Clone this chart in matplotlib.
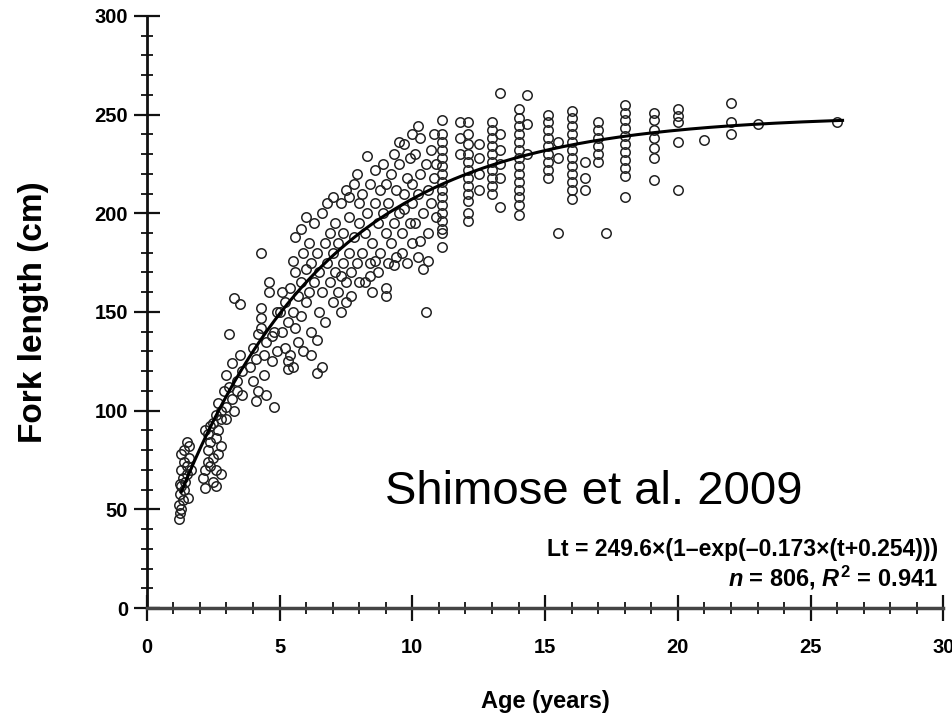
import numpy as np
import matplotlib
matplotlib.use("Agg")
import matplotlib.pyplot as plt
from matplotlib.ticker import MultipleLocator

age_g1 = [1.2, 1.2, 1.25, 1.25, 1.3, 1.3, 1.3, 1.35, 1.35, 1.4, 1.4, 1.4, 1.45, 1.5, 1.5, 1.5, 1.55, 1.6, 1.6, 1.65, 1.3, 1.25]
fl_g1 = [45, 52, 48, 58, 50, 62, 70, 55, 66, 60, 74, 80, 64, 68, 72, 84, 56, 76, 82, 70, 78, 63]

age_g2 = [2.1, 2.2, 2.2, 2.3, 2.3, 2.3, 2.4, 2.4, 2.5, 2.5, 2.5, 2.6, 2.6, 2.7, 2.7, 2.8, 2.8, 2.2, 2.6, 2.4]
fl_g2 = [66, 70, 61, 74, 80, 88, 84, 92, 64, 76, 94, 70, 86, 78, 90, 82, 68, 90, 62, 72]

age_g3 = [2.6, 2.7, 2.8, 2.9, 3.0, 3.0, 3.1, 3.1, 3.2, 3.2, 3.3, 3.3, 3.4, 3.5, 3.5, 3.6, 3.6, 2.8, 3.0, 3.4]
fl_g3 = [98, 104, 100, 110, 96, 118, 112, 139, 106, 124, 157, 100, 115, 128, 154, 120, 108, 96, 102, 110]

age_g4 = [3.9, 4.0, 4.0, 4.1, 4.2, 4.2, 4.3, 4.3, 4.3, 4.3, 4.4, 4.4, 4.5, 4.5, 4.6, 4.6, 4.7, 4.7, 4.8, 4.8, 4.9, 4.9, 4.1]
fl_g4 = [122, 115, 132, 126, 110, 139, 180, 152, 147, 142, 118, 128, 135, 108, 160, 165, 125, 138, 102, 140, 130, 150, 105]

age_g5 = [5.0, 5.1, 5.1, 5.2, 5.2, 5.3, 5.3, 5.4, 5.4, 5.5, 5.5, 5.6, 5.6, 5.7, 5.7, 5.8, 5.8, 5.9, 5.9, 6.0, 6.0, 6.0, 5.3, 5.6, 5.5, 5.8]
fl_g5 = [150, 140, 160, 132, 155, 125, 145, 162, 128, 150, 122, 170, 142, 158, 135, 165, 148, 180, 130, 198, 155, 172, 121, 188, 176, 192]

age_g6 = [6.1, 6.1, 6.2, 6.2, 6.3, 6.3, 6.4, 6.4, 6.4, 6.5, 6.5, 6.6, 6.6, 6.7, 6.7, 6.8, 6.8, 6.9, 6.9, 7.0, 7.0, 7.0, 6.2, 6.6]
fl_g6 = [160, 185, 175, 140, 195, 165, 119, 136, 180, 150, 170, 200, 160, 185, 145, 175, 205, 165, 190, 208, 155, 180, 128, 122]

age_g7 = [7.1, 7.1, 7.2, 7.2, 7.3, 7.3, 7.4, 7.4, 7.5, 7.5, 7.6, 7.6, 7.7, 7.7, 7.8, 7.8, 7.9, 7.9, 8.0, 8.0, 8.0, 7.5, 7.3, 7.6]
fl_g7 = [170, 195, 160, 185, 150, 205, 175, 190, 165, 212, 180, 198, 158, 170, 188, 215, 220, 175, 165, 195, 205, 155, 168, 208]

age_g8 = [8.1, 8.1, 8.2, 8.2, 8.3, 8.3, 8.4, 8.4, 8.5, 8.5, 8.6, 8.6, 8.7, 8.7, 8.8, 8.8, 8.9, 8.9, 9.0, 9.0, 9.0, 9.0, 8.4, 8.6]
fl_g8 = [180, 210, 165, 190, 229, 200, 175, 215, 160, 185, 205, 222, 170, 195, 212, 180, 200, 225, 162, 158, 190, 215, 168, 176]

age_g9 = [9.1, 9.1, 9.2, 9.2, 9.3, 9.3, 9.4, 9.4, 9.5, 9.5, 9.6, 9.6, 9.7, 9.7, 9.8, 9.8, 9.9, 9.9, 10.0, 10.0, 10.0, 10.0, 9.5, 9.3, 9.7]
fl_g9 = [175, 205, 220, 185, 195, 230, 178, 212, 200, 225, 180, 190, 235, 210, 175, 218, 195, 228, 240, 205, 185, 215, 236, 174, 202]

age_g10 = [10.1, 10.1, 10.2, 10.2, 10.3, 10.3, 10.4, 10.4, 10.5, 10.5, 10.6, 10.6, 10.7, 10.7, 10.8, 10.8, 10.9, 10.9, 10.3, 10.6, 10.2]
fl_g10 = [230, 195, 210, 178, 238, 220, 200, 172, 150, 225, 212, 190, 232, 205, 218, 240, 198, 225, 186, 176, 244]

# the older fish fall in near-vertical columns
age_cols = [11.1, 11.8, 12.1, 12.5, 13.0, 13.3, 14.0, 14.3, 15.1, 15.5, 16.0, 16.5, 17.0, 17.3, 18.0, 19.1, 20.0, 21.0, 22.0, 23.0, 26.0]
fl_cols = [
    [247, 240, 236, 232, 228, 224, 220, 216, 212, 208, 204, 200, 196, 192, 190, 183],
    [246, 238, 230],
    [246, 240, 235, 230, 226, 222, 218, 214, 210, 206, 200, 196],
    [235, 228, 220, 212],
    [246, 242, 238, 234, 230, 226, 222, 218, 214, 210],
    [261, 240, 232, 225, 218, 203],
    [253, 248, 244, 240, 236, 232, 228, 224, 220, 216, 212, 208, 204, 199],
    [260, 245, 230],
    [250, 246, 242, 238, 234, 230, 226, 222, 218],
    [236, 228, 190],
    [252, 248, 244, 240, 236, 232, 228, 224, 220, 216, 212, 207],
    [226, 218, 212],
    [246, 242, 238, 234, 230, 226],
    [190],
    [255, 251, 247, 243, 239, 235, 231, 227, 223, 219, 208],
    [251, 247, 242, 238, 233, 228, 217],
    [253, 249, 246, 236, 212],
    [237],
    [256, 246, 240],
    [245],
    [246],
]

# von Bertalanffy fit printed on the figure
L_inf, k, t0 = 249.6, 0.173, -0.254

ages = age_g1 + age_g2 + age_g3 + age_g4 + age_g5 + age_g6 + age_g7 + age_g8 + age_g9 + age_g10
fls = fl_g1 + fl_g2 + fl_g3 + fl_g4 + fl_g5 + fl_g6 + fl_g7 + fl_g8 + fl_g9 + fl_g10
for a, col in zip(age_cols, fl_cols):
    ages += [a] * len(col)
    fls += col

plt.rcParams['font.family'] = ['Liberation Sans', 'DejaVu Sans']
plt.rcParams['mathtext.fontset'] = 'custom'
plt.rcParams['mathtext.rm'] = 'Liberation Sans:bold'
plt.rcParams['mathtext.it'] = 'Liberation Sans:italic:bold'

fig = plt.figure(figsize=(9.53, 7.18), dpi=100)
ax = fig.add_axes([0.154, 0.153, 0.836, 0.825])

ax.plot(ages, fls, 'o', mfc='none', mec='#222222', ms=6.8, mew=1.1, zorder=2)

t = np.linspace(1.3, 26.2, 200)
ax.plot(t, L_inf * (1 - np.exp(-k * (t - t0))), color='black', lw=2.2, zorder=3)

ax.set_xlim(0, 30)
ax.set_ylim(0, 300)
ax.xaxis.set_major_locator(MultipleLocator(5))
ax.xaxis.set_minor_locator(MultipleLocator(1))
ax.yaxis.set_major_locator(MultipleLocator(50))
ax.yaxis.set_minor_locator(MultipleLocator(10))

for s in ['top', 'right']:
    ax.spines[s].set_visible(False)
ax.spines['left'].set_linewidth(2)
ax.spines['bottom'].set_linewidth(2.5)
ax.spines['bottom'].set_color('#444444')
ax.spines['left'].set_color('#111111')

ax.tick_params(which='major', direction='inout', length=19, width=1.6, color='#111111', pad=4)
ax.tick_params(which='minor', direction='inout', length=9, width=1.4, color='#222222')
ax.tick_params(axis='x', which='major', pad=12)
for lab in ax.get_xticklabels() + ax.get_yticklabels():
    lab.set_fontweight('bold')
    lab.set_fontsize(14.5)

ax.set_xlabel('Age (years)', fontsize=17, fontweight='bold', labelpad=24)
ax.set_ylabel('Fork length (cm)', fontsize=24, fontweight='bold', labelpad=33)

ax.text(0.299, 0.175, 'Shimose et al. 2009', transform=ax.transAxes, fontsize=34)
ax.text(0.993, 0.088, 'Lt = 249.6×(1\u2013exp(\u20130.173×(t+0.254)))', transform=ax.transAxes,
        fontsize=16.5, fontweight='bold', ha='right')
ax.text(0.993, 0.036, r'$n$ = 806, $R^2$ = 0.941', transform=ax.transAxes,
        fontsize=17, fontweight='bold', ha='right')

fig.savefig('out.png', dpi=100)
